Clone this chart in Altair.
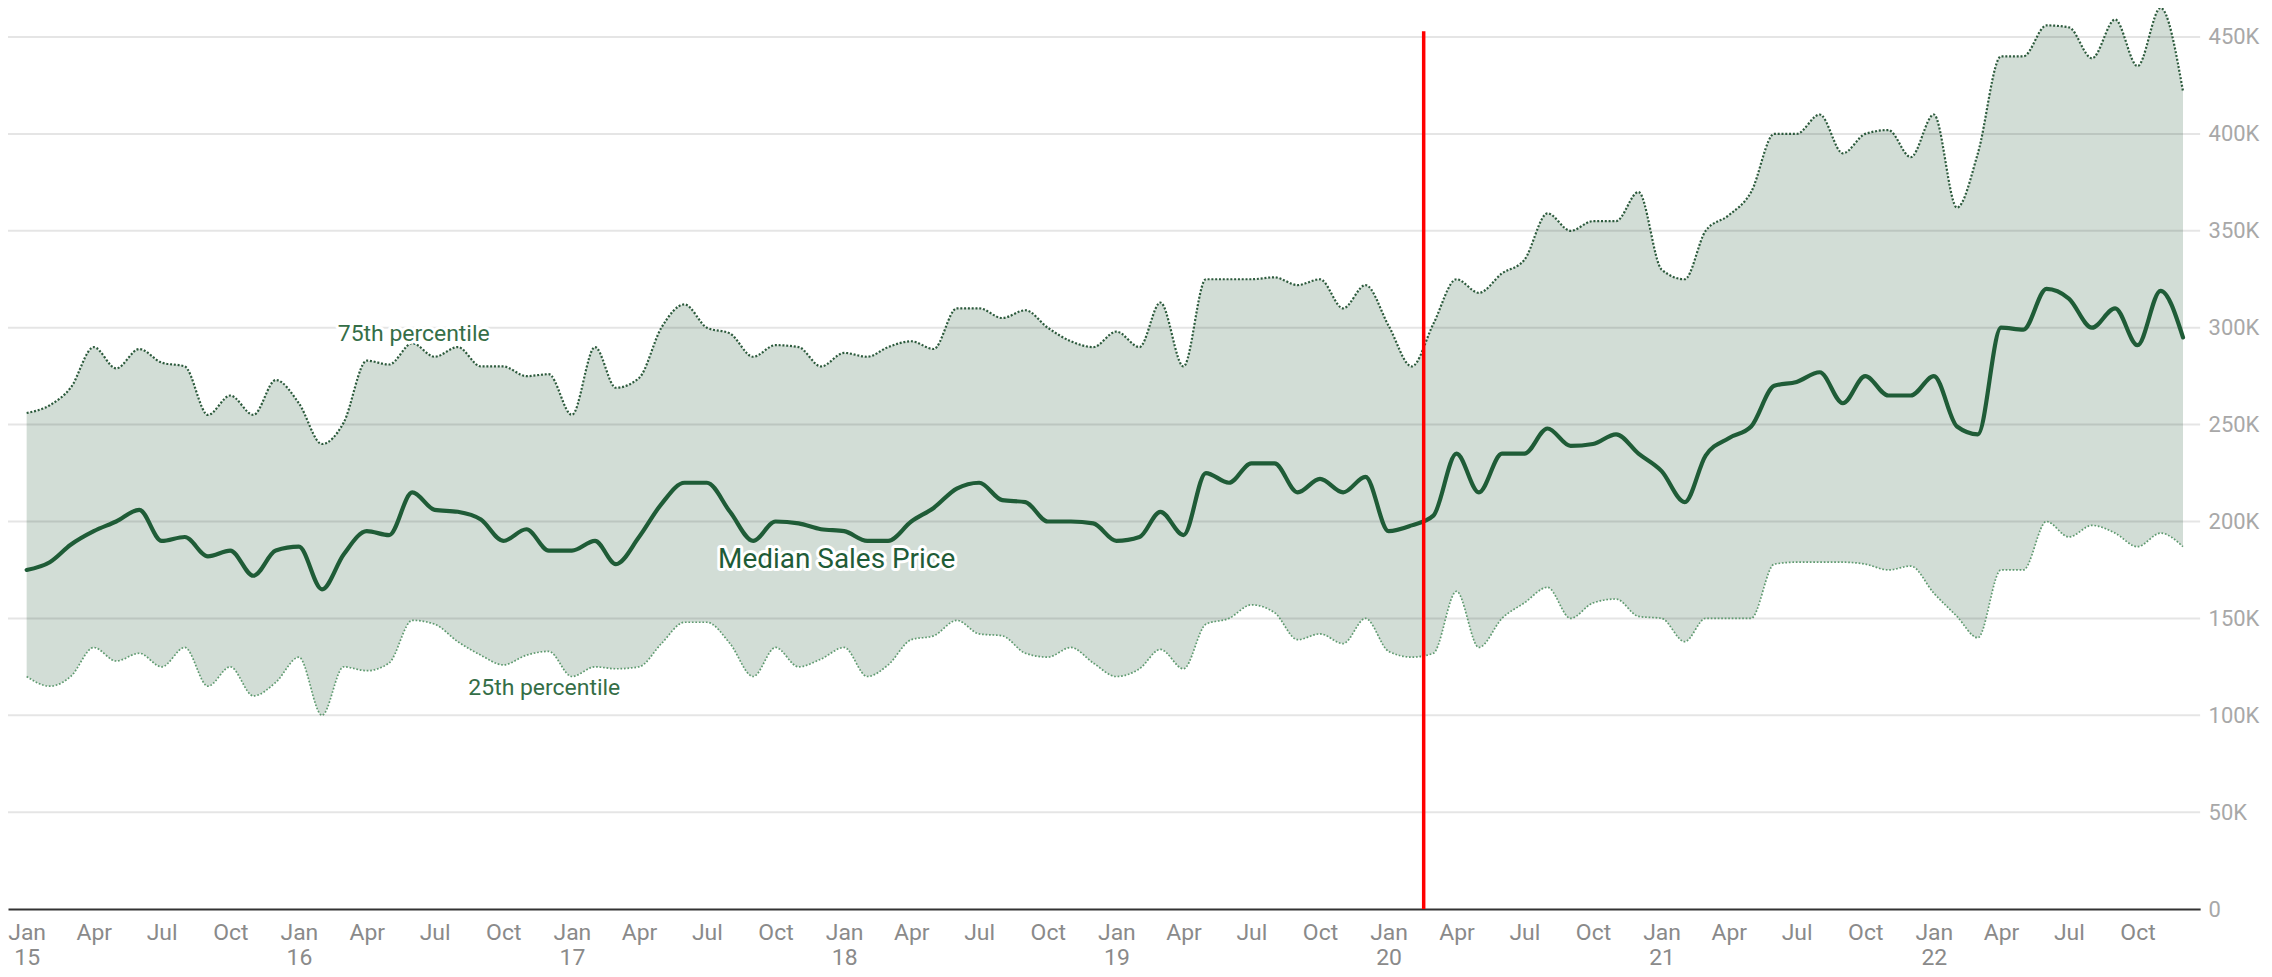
import altair as alt
import pandas as pd

# ---------------- data (values in thousands of dollars) ----------------
months = pd.date_range("2015-01-01", periods=96, freq="MS").strftime("%Y-%m-%d").tolist()

median_k = [175, 179, 188, 195, 200, 206, 190, 192, 182, 185, 172, 185,
            187, 165, 183, 195, 193, 215, 206, 205, 201, 190, 196, 185,
            185, 190, 178, 192, 209, 220, 220, 205, 190, 200, 199, 196,
            195, 190, 190, 200, 207, 217, 220, 211, 210, 200, 200, 199,
            190, 192, 205, 193, 225, 220, 230, 230, 215, 222, 215, 223,
            195, 198, 203, 235, 215, 235, 235, 248, 239, 240, 245, 235,
            226, 210, 234, 243, 249, 270, 272, 277, 261, 275, 265, 265,
            275, 249, 245, 300, 299, 320, 315, 300, 310, 291, 319, 295]

p75_k = [256, 260, 269, 290, 279, 289, 282, 280, 255, 265, 255, 273,
         261, 240, 251, 283, 281, 292, 285, 290, 280, 280, 275, 276,
         255, 290, 269, 274, 300, 312, 300, 297, 285, 291, 290, 280,
         287, 285, 290, 293, 289, 310, 310, 305, 309, 300, 293, 290,
         298, 290, 313, 280, 325, 325, 325, 326, 322, 325, 310, 322,
         301, 280, 302, 325, 318, 328, 335, 359, 350, 355, 355, 370,
         330, 325, 350, 358, 370, 400, 400, 410, 390, 400, 402, 388,
         410, 362, 390, 440, 440, 456, 455, 439, 459, 435, 465, 422]

p25_k = [120, 115, 120, 135, 128, 132, 125, 135, 115, 125, 110, 117,
         130, 100, 125, 123, 127, 149, 147, 138, 131, 126, 131, 133,
         120, 125, 124, 125, 137, 148, 148, 137, 120, 135, 125, 129,
         135, 120, 126, 139, 141, 149, 142, 141, 132, 130, 135, 127,
         120, 124, 134, 124, 147, 150, 157, 153, 139, 142, 137, 150,
         133, 130, 132, 164, 135, 150, 158, 166, 150, 158, 160, 151,
         150, 138, 150, 150, 150, 178, 179, 179, 179, 178, 175, 177,
         163, 151, 140, 175, 175, 200, 192, 198, 194, 187, 194, 187]

event_date = ["2020-02-17"]
event_span_k = [0, 453]

label_texts = ["75th percentile", "Median Sales Price", "25th percentile"]
label_dates = ["2016-06-03", "2017-12-22", "2016-11-25"]
label_values_k = [293.2, 176.1, 110.6]

x_tick_dates = pd.date_range("2015-01-01", "2022-10-01", freq="QS").strftime("%Y-%m-%d").tolist()
y_ticks_k = [0, 50, 100, 150, 200, 250, 300, 350, 400, 450]
x_domain_dates = ["2014-12-07", "2022-12-24"]

# ---------------- tables ----------------
def ms(d):
    return int(pd.Timestamp(d, tz="UTC").value // 10**6)

df = pd.DataFrame({
    "date": months,
    "median": [v * 1000 for v in median_k],
    "p75": [v * 1000 for v in p75_k],
    "p25": [v * 1000 for v in p25_k],
})
grid_df = pd.DataFrame({"v": [v * 1000 for v in y_ticks_k[1:]]})
event_df = pd.DataFrame({"date": event_date, "y0": [event_span_k[0] * 1000], "y1": [event_span_k[1] * 1000]})
lab_df = pd.DataFrame({
    "date": label_dates,
    "value": [v * 1000 for v in label_values_k],
    "text": label_texts,
    "size": [23, 28, 23],
    "color": ["#356e47", "#1f5c37", "#356e47"],
})

W, H = 2197, 874

x_scale = alt.Scale(type="utc", domain=[ms(d) for d in x_domain_dates])
y_scale = alt.Scale(domain=[0, 450000], nice=False, zero=True)

x_axis = alt.Axis(
    values=[ms(d) for d in x_tick_dates], title=None, grid=False, ticks=False,
    domain=True, domainColor="#333333", domainWidth=2,
    labelFont="Roboto", labelFontSize=23, labelColor="#8a8a8a",
    labelPadding=12, labelLineHeight=26, labelAlign="center", labelBaseline="top",
    labelOverlap=False, labelFlush=False,
    labelExpr="utcmonth(datum.value) == 0 ? [utcFormat(datum.value, '%b'), utcFormat(datum.value, '%y')] : utcFormat(datum.value, '%b')",
)
y_axis = alt.Axis(
    orient="right", values=[v * 1000 for v in y_ticks_k], title=None, grid=False,
    ticks=False, domain=False, labelFont="Roboto", labelFontSize=22,
    labelColor="#a8a8a8", labelPadding=8,
    labelExpr="datum.value == 0 ? '0' : format(datum.value / 1000, 'd') + 'K'",
)

X = alt.X("date:T", scale=x_scale, axis=x_axis)

area = alt.Chart(df).mark_area(interpolate="monotone", color="#d2ddd6").encode(
    x=X,
    y=alt.Y("p25:Q", scale=y_scale, axis=y_axis),
    y2="p75:Q",
)

grid = alt.Chart(grid_df).mark_rule(color="black", opacity=0.1, strokeWidth=2).encode(
    y=alt.Y("v:Q", scale=y_scale, axis=y_axis),
    x=alt.value(0),
    x2=alt.value(W),
)

line75 = alt.Chart(df).mark_line(
    interpolate="monotone", color="#2c5a3c", strokeWidth=2.2, strokeDash=[2, 1.8]
).encode(x=X, y=alt.Y("p75:Q", scale=y_scale, axis=y_axis))

line25 = alt.Chart(df).mark_line(
    interpolate="monotone", color="#5f9a70", strokeWidth=1.7, strokeDash=[1.7, 1.8]
).encode(x=X, y=alt.Y("p25:Q", scale=y_scale, axis=y_axis))

line_med = alt.Chart(df).mark_line(
    interpolate="monotone", color="#1f5c37", strokeWidth=4.2, strokeJoin="round", strokeCap="round"
).encode(x=X, y=alt.Y("median:Q", scale=y_scale, axis=y_axis))

event = alt.Chart(event_df).mark_rule(color="#ff0000", strokeWidth=3.5).encode(
    x=X,
    y=alt.Y("y0:Q", scale=y_scale, axis=y_axis),
    y2="y1:Q",
)

halo = alt.Chart(lab_df).mark_text(
    font="Roboto", align="center", baseline="alphabetic",
    stroke="white", strokeWidth=6, strokeJoin="round", fill="white",
).encode(
    x=X,
    y=alt.Y("value:Q", scale=y_scale, axis=y_axis),
    text="text:N",
    size=alt.Size("size:Q", scale=None, legend=None),
)

labels = alt.Chart(lab_df).mark_text(
    font="Roboto", align="center", baseline="alphabetic",
).encode(
    x=X,
    y=alt.Y("value:Q", scale=y_scale, axis=y_axis),
    text="text:N",
    size=alt.Size("size:Q", scale=None, legend=None),
    color=alt.Color("color:N", scale=None, legend=None),
)

chart = alt.layer(area, grid, line25, line75, line_med, event, halo, labels).properties(
    width=W, height=H,
    autosize=alt.AutoSizeParams(type="none"),
    padding={"left": 0, "top": 28, "right": 64, "bottom": 67},
    background="white",
).configure_view(stroke=None)

chart.save("out.html", embed_options={"renderer": "svg", "actions": False})
